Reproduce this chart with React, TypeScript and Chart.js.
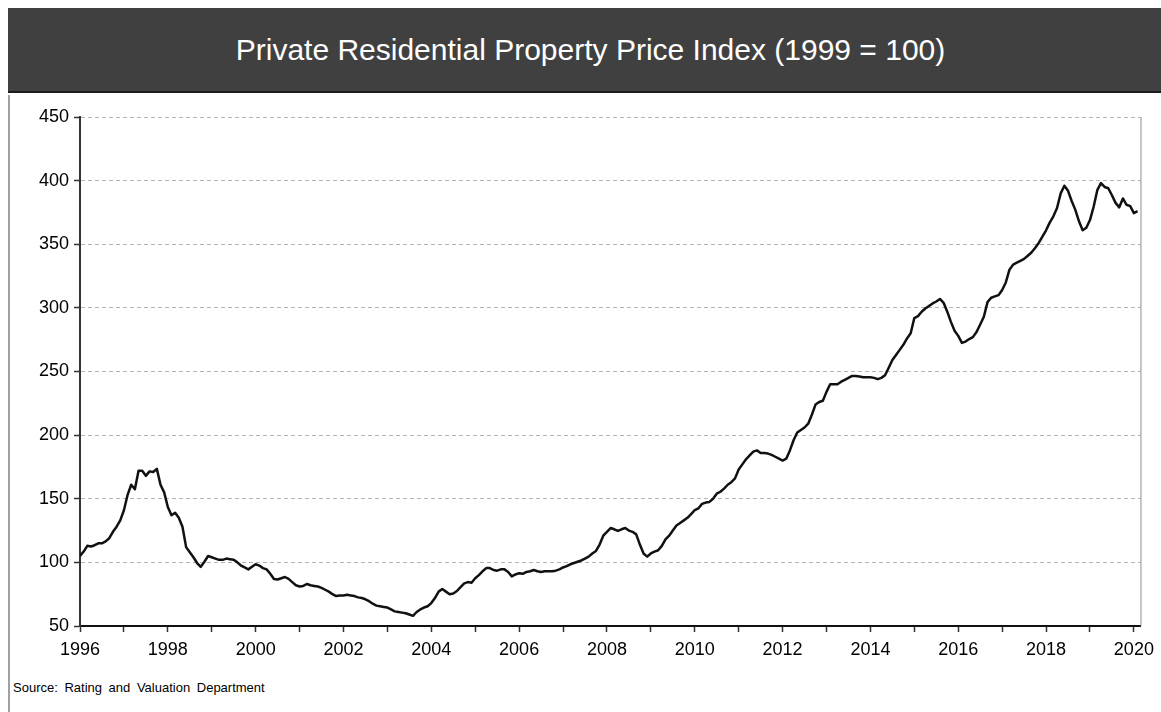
import { useEffect, useRef } from "react";
import { Chart, registerables } from "chart.js";

Chart.register(...registerables);

const TITLE = "Private Residential Property Price Index (1999 = 100)";
const SOURCE = "Source: Rating and Valuation Department";

const startYear = 1996;
const yearTicks = [
  1996, 1997, 1998, 1999, 2000, 2001, 2002, 2003, 2004, 2005, 2006, 2007, 2008,
  2009, 2010, 2011, 2012, 2013, 2014, 2015, 2016, 2017, 2018, 2019, 2020,
];
const yTicks = [50, 100, 150, 200, 250, 300, 350, 400, 450];

// Monthly index values, Jan 1996 .. Feb 2020
const priceIndex = [
  105, 108.5, 113, 112.5, 113.5, 115, 115, 116.5, 119, 124, 128, 133, // 1996
  141, 153, 161, 157.5, 172, 172, 168, 171.5, 171, 173.5, 161, 155, // 1997
  143.5, 137, 139, 135, 128, 112, 108, 104, 99.5, 96.5, 100.5, 105, // 1998
  104, 103, 102, 102, 103, 102.5, 102, 100, 97.5, 96, 94.5, 96.5, // 1999
  98.5, 97.5, 95.5, 94.5, 91, 87, 86.5, 87.5, 88.5, 87, 84.5, 82, // 2000
  81, 81.5, 83, 82, 81.5, 81, 80, 78.5, 77, 75, 73.5, 74, // 2001
  74, 74.5, 74, 73.5, 72.5, 72, 71, 69.5, 67.5, 66, 65.5, 65, // 2002
  64.5, 63, 61.5, 61, 60.5, 60, 59, 58, 61, 63, 64.5, 65.5, // 2003
  68, 72, 77, 79, 77, 75, 75.5, 77.5, 80.5, 83.5, 84.5, 84, // 2004
  87.5, 90, 93, 95.5, 95.5, 94, 93.5, 94.5, 94.5, 92.5, 89, 90.5, // 2005
  91.5, 91, 92.5, 93, 94, 93, 92.5, 93, 93, 93, 93.5, 94.5, // 2006
  96, 97, 98.5, 99.5, 100.5, 101.5, 103, 104.5, 107, 109, 114, 121, // 2007
  124, 127, 126, 124.7, 126, 127, 125, 124, 122, 114, 107, 104.5, // 2008
  107, 108.5, 109.5, 113, 118, 121, 125, 129, 131, 133, 135, 138, // 2009
  141, 142.5, 146, 147, 147.5, 150, 154, 155.5, 158, 161, 163, 166, // 2010
  173, 177, 181, 184, 187, 188, 186, 186, 185.5, 184.5, 183, 181.5, // 2011
  180, 181.5, 188, 196, 202, 204, 206, 209, 216, 224, 226, 227, // 2012
  234, 240, 240, 240, 242, 243.5, 245, 246.5, 246.5, 246, 245.5, 245.5, // 2013
  245.5, 245, 244, 245, 247, 253, 259, 263, 267, 271, 276, 280, // 2014
  292, 293.5, 297, 299.5, 301.5, 303.5, 305, 307, 304, 297, 289, 282, // 2015
  278, 272.5, 273.5, 275.5, 277, 281, 287, 293, 304.5, 308, 309, 310, // 2016
  314, 320, 330, 334, 335.5, 337, 338.5, 341, 343.5, 347, 351, 356, // 2017
  361, 367, 372, 378.5, 390, 396, 392, 384, 377, 368, 361, 363, // 2018
  369, 379.5, 392.5, 398, 395, 394, 388.5, 382.5, 379, 386, 381, 380, // 2019
  374.5, 376, // 2020
];

const FONT = "'Liberation Sans', Arial, sans-serif";

const frameBorder = {
  id: "frameBorder",
  afterDraw(chart: any) {
    const { ctx, chartArea } = chart;
    ctx.save();
    ctx.strokeStyle = "#8c8c8c";
    ctx.lineWidth = 1;
    ctx.beginPath();
    ctx.moveTo(chartArea.right + 0.5, chartArea.top);
    ctx.lineTo(chartArea.right + 0.5, chartArea.bottom);
    ctx.stroke();
    ctx.restore();
  },
};

export default function App() {
  const canvasRef = useRef<HTMLCanvasElement | null>(null);

  useEffect(() => {
    if (!canvasRef.current) return;
    const points = priceIndex.map((v, i) => ({ x: startYear + i / 12, y: v }));
    const chart = new Chart(canvasRef.current, {
      type: "line",
      data: {
        datasets: [
          {
            data: points,
            borderColor: "#111111",
            borderWidth: 2.5,
            pointRadius: 0,
            tension: 0,
            borderJoinStyle: "round",
          },
        ],
      },
      options: {
        animation: false,
        responsive: false,
        maintainAspectRatio: false,
        layout: { padding: { left: 0, top: 22, right: 15, bottom: 0 } },
        plugins: {
          legend: { display: false },
          tooltip: { enabled: false },
          title: { display: false },
        },
        scales: {
          x: {
            type: "linear",
            min: yearTicks[0],
            max: 2020.15,
            afterBuildTicks: (scale: any) => {
              scale.ticks = yearTicks.map((v) => ({ value: v }));
            },
            afterFit: (scale: any) => {
              scale.height = 44;
            },
            border: { display: true, color: "#111111", width: 2 },
            grid: {
              drawOnChartArea: false,
              drawTicks: true,
              tickLength: 6,
              tickColor: "#333333",
              tickWidth: 1.5,
            },
            ticks: {
              autoSkip: false,
              maxRotation: 0,
              padding: 7,
              color: "#000000",
              font: { family: FONT, size: 18 },
              callback: (v: any) => (Number(v) % 2 === 0 ? String(v) : ""),
            },
          },
          y: {
            type: "linear",
            min: yTicks[0],
            max: yTicks[yTicks.length - 1],
            afterBuildTicks: (scale: any) => {
              scale.ticks = yTicks.map((v) => ({ value: v }));
            },
            afterFit: (scale: any) => {
              scale.width = 72;
            },
            border: { display: true, color: "#333333", width: 2, dash: [4, 3] },
            grid: {
              color: "#b4b4b4",
              lineWidth: 1,
              drawTicks: true,
              tickLength: 6,
              tickColor: "#333333",
              tickWidth: 1.5,
              tickBorderDash: [],
            },
            ticks: {
              padding: 5,
              color: "#000000",
              font: { family: FONT, size: 18 },
            },
          },
        },
      },
      plugins: [frameBorder],
    });
    return () => chart.destroy();
  }, []);

  return (
    <div
      style={{
        position: "absolute",
        left: 8,
        top: 8,
        width: 1153,
        height: 704,
        background: "#ffffff",
        overflow: "hidden",
      }}
    >
      <div
        style={{
          position: "absolute",
          left: 0,
          top: 0,
          width: 1153,
          height: 85,
          background: "#404040",
          borderBottom: "2px solid #1c1c1c",
          color: "#ffffff",
          fontFamily: FONT,
          fontSize: 30,
          display: "flex",
          alignItems: "center",
          justifyContent: "center",
          paddingLeft: 12,
          boxSizing: "border-box",
        }}
      >
        {TITLE}
      </div>
      <div
        style={{
          position: "absolute",
          left: 0,
          top: 87,
          width: 2,
          height: 617,
          background: "#a0a0a0",
        }}
      />
      <canvas
        ref={canvasRef}
        width={1153}
        height={575}
        style={{ position: "absolute", left: 0, top: 87, width: 1153, height: 575 }}
      />
      <div
        style={{
          position: "absolute",
          left: 5,
          top: 672,
          fontFamily: FONT,
          fontSize: 13,
          wordSpacing: 3,
          color: "#000000",
          whiteSpace: "nowrap",
        }}
      >
        {SOURCE}
      </div>
    </div>
  );
}
